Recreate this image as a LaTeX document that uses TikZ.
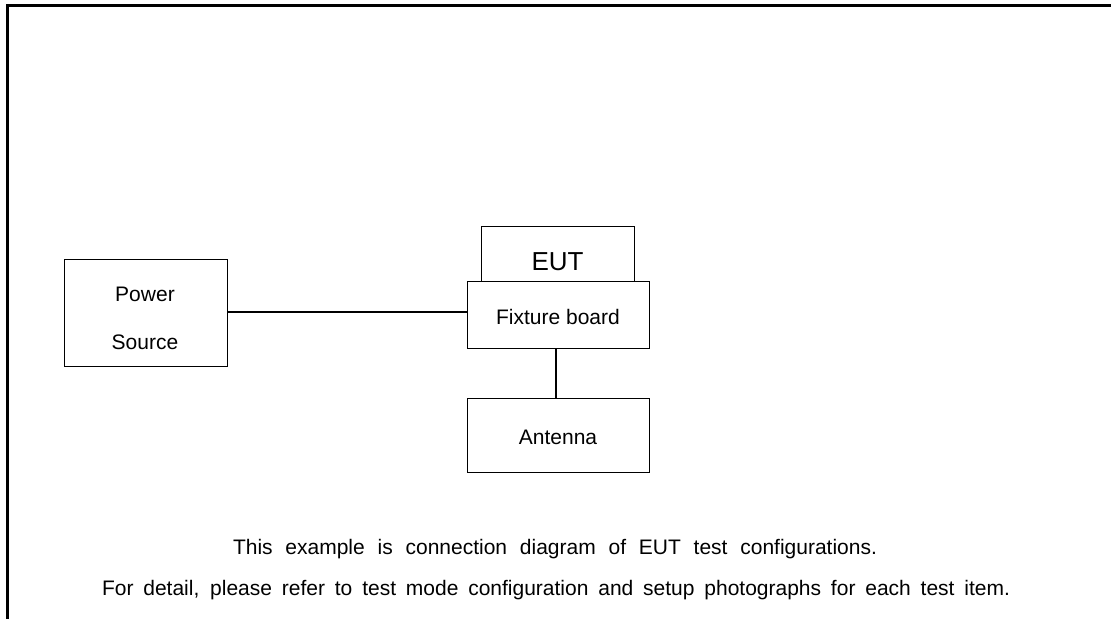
\documentclass[tikz,border=0pt]{standalone}
\usepackage{fontspec}
\setmainfont{Liberation Sans}
\begin{document}
\begin{tikzpicture}[x=1pt,y=-1pt,
  box/.style={draw, line width=1.3pt, inner sep=0pt, anchor=north west},
  lbl/.style={font=\fontsize{21}{25}\selectfont},
  note/.style={font=\fontsize{21}{25}\selectfont, inner sep=0pt},
  wire/.style={line width=1.3pt}]
\useasboundingbox (0,0) rectangle (1111,619);
\fill[white] (0,0) rectangle (1111,619);
\draw[line width=3pt] (1111,5.5) -- (7,5.5) -- (7,619);
% boxes
\node[box, minimum width=163pt, minimum height=107pt] (ps) at (64,259) {};
\node[lbl] (pst1) at (145,294) {Power};
\node[lbl] (pst2) at (145,342) {Source};
\node[box, minimum width=153pt, minimum height=55pt] (eut) at (481,226) {};
\node[font=\fontsize{26}{31}\selectfont] (eutt) at (557.5,262) {EUT};
\node[box, minimum width=182pt, minimum height=67pt, fill=white] (fix) at (467,281) {};
\node[lbl] (fixt) at (558,317) {Fixture board};
\node[box, minimum width=182pt, minimum height=74pt] (ant) at (467,398) {};
\node[lbl] (antt) at (558,437) {Antenna};
% connectors
\draw[wire] (ps.east |- 0,312) -- (fix.west |- 0,312);
\draw[wire] (fix.south -| 556,0) -- (ant.north -| 556,0);
% notes
\node[note] (n1) at (555,549) {\makebox[644pt][s]{This example is connection diagram of EUT test configurations.}};
\node[note] (n2) at (556,590) {\makebox[908pt][s]{For detail, please refer to test mode configuration and setup photographs for each test item.}};
\end{tikzpicture}
\end{document}
